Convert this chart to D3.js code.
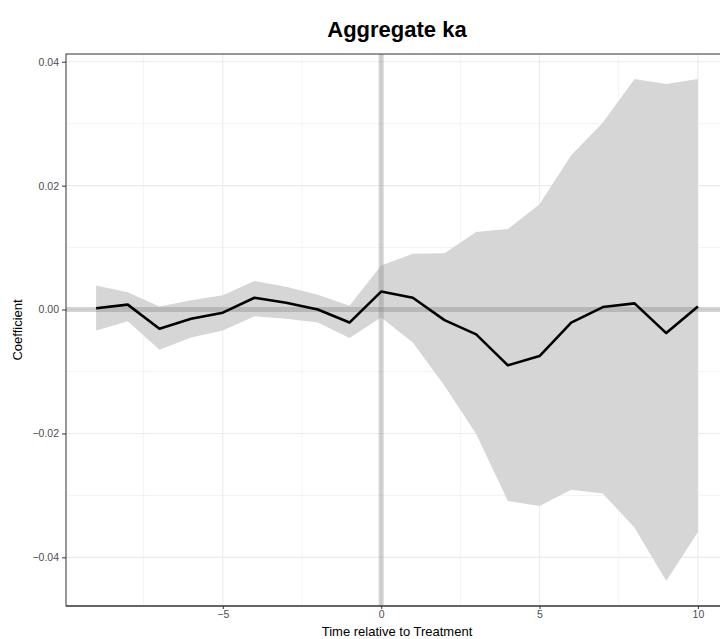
<!DOCTYPE html>
<html><head><meta charset="utf-8">
<script src="https://cdn.jsdelivr.net/npm/d3@7"></script>
<style>body{margin:0;background:#fff}svg{display:block;font-family:"Liberation Sans",Arial,sans-serif}</style>
</head><body><div id="chart"></div>
<script>
const periods = [-9,-8,-7,-6,-5,-4,-3,-2,-1,0,1,2,3,4,5,6,7,8,9,10];
const coef  = [0.0002,0.0008,-0.0031,-0.0015,-0.0005,0.0019,0.0011,0.0000,-0.0021,0.0029,0.0019,-0.0017,-0.0040,-0.0090,-0.0075,-0.0021,0.0004,0.0010,-0.0038,0.0005];
const upper = [0.0039,0.0028,0.0005,0.0015,0.0023,0.0046,0.0037,0.0024,0.0006,0.0071,0.0090,0.0091,0.0125,0.0130,0.0170,0.0249,0.0302,0.0372,0.0364,0.0372];
const lower = [-0.0034,-0.0019,-0.0065,-0.0045,-0.0034,-0.0011,-0.0015,-0.0021,-0.0046,-0.0013,-0.0053,-0.0123,-0.0201,-0.0309,-0.0317,-0.0291,-0.0297,-0.0352,-0.0438,-0.0359];
const xTicks = [-5,0,5,10];
const yTicks = [-0.04,-0.02,0.00,0.02,0.04];
const xMinor = [-7.5,-2.5,2.5,7.5];
const yMinor = [-0.03,-0.01,0.01,0.03];

const W=720,H=639;
const L=66,R=728,T=54,B=606;
const svg=d3.select("#chart").append("svg").attr("width",W).attr("height",H);

const xr=[d3.min(periods),d3.max(periods)], xs=(xr[1]-xr[0])*0.05;
const x=d3.scaleLinear().domain([xr[0]-xs,xr[1]+xs]).range([L,R]);
const ymin=d3.min(lower), ymax=d3.max(upper), ys=(ymax-ymin)*0.05;
const y=d3.scaleLinear().domain([ymin-ys,ymax+ys]).range([B,T]);

const g=svg.append("g");
// grid
g.selectAll(".xm").data(xMinor).join("line").attr("x1",d=>x(d)).attr("x2",d=>x(d)).attr("y1",T).attr("y2",B).attr("stroke","#ebebeb").attr("stroke-width",0.6);
g.selectAll(".ym").data(yMinor).join("line").attr("y1",d=>y(d)).attr("y2",d=>y(d)).attr("x1",L).attr("x2",R).attr("stroke","#ebebeb").attr("stroke-width",0.6);
g.selectAll(".xM").data(xTicks).join("line").attr("x1",d=>x(d)).attr("x2",d=>x(d)).attr("y1",T).attr("y2",B).attr("stroke","#ebebeb").attr("stroke-width",1.1);
g.selectAll(".yM").data(yTicks).join("line").attr("y1",d=>y(d)).attr("y2",d=>y(d)).attr("x1",L).attr("x2",R).attr("stroke","#ebebeb").attr("stroke-width",1.1);

const data=periods.map((p,i)=>({p,c:coef[i],u:upper[i],l:lower[i]}));
g.append("path").datum(data).attr("fill","#d6d6d6")
 .attr("d",d3.area().x(d=>x(d.p)).y0(d=>y(d.l)).y1(d=>y(d.u)));

// reference lines
g.append("line").attr("x1",x(0)).attr("x2",x(0)).attr("y1",T).attr("y2",B).attr("stroke","rgba(128,128,128,0.35)").attr("stroke-width",5);
g.append("line").attr("x1",L).attr("x2",R).attr("y1",y(0)).attr("y2",y(0)).attr("stroke","rgba(128,128,128,0.35)").attr("stroke-width",5);

g.append("path").datum(data).attr("fill","none").attr("stroke","#000").attr("stroke-width",2.6).attr("stroke-linejoin","round")
 .attr("d",d3.line().x(d=>x(d.p)).y(d=>y(d.c)));

// border
g.append("rect").attr("x",L).attr("y",T).attr("width",R-L).attr("height",B-T).attr("fill","none").attr("stroke","#333").attr("stroke-width",1);
g.append("line").attr("x1",L).attr("x2",R).attr("y1",B).attr("y2",B).attr("stroke","#555").attr("stroke-width",1.6);

// axes
const fmtY=d=>d===0?"0.00":d3.format(".2f")(d).replace("-","\u2212");
const ya=svg.append("g").attr("transform",`translate(${L},0)`).call(d3.axisLeft(y).tickValues(yTicks).tickSize(4).tickPadding(3).tickFormat(fmtY));
const xa=svg.append("g").attr("transform",`translate(0,${B})`).call(d3.axisBottom(x).tickValues(xTicks).tickSize(3).tickPadding(2).tickFormat(d=>String(d).replace("-","\u2212")));
[ya,xa].forEach(a=>{a.select(".domain").remove();a.selectAll(".tick line").attr("stroke","#333");a.selectAll("text").attr("fill","#4d4d4d").attr("font-size","10.5px").attr("font-family","Liberation Sans, Arial, sans-serif");});

svg.append("text").attr("x",(L+R)/2).attr("y",636).attr("text-anchor","middle").attr("font-size","13px").attr("fill","#000").text("Time relative to Treatment");
svg.append("text").attr("transform",`translate(22,${(T+B)/2}) rotate(-90)`).attr("text-anchor","middle").attr("font-size","13px").attr("fill","#000").text("Coefficient");
svg.append("text").attr("x",(L+R)/2).attr("y",37).attr("text-anchor","middle").attr("font-size","22px").attr("font-weight","bold").attr("fill","#000").text("Aggregate ka");
</script></body></html>
